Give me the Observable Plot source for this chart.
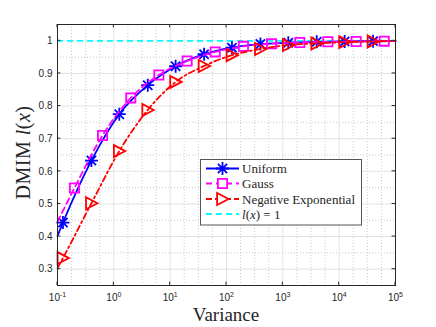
<!DOCTYPE html>
<html><head><meta charset="utf-8">
<script src="https://cdn.jsdelivr.net/npm/d3@7"></script>
<script src="https://cdn.jsdelivr.net/npm/@observablehq/plot@0.6"></script>
<style>
html,body{margin:0;padding:0;background:#fff;}
#chart{position:relative;width:436px;height:327px;}
</style></head><body><div id="chart"></div>
<script>
// ---- data ----
const xMin = 0.1, xMax = 1e5;
const yMin = 0.25, yMax = 1.05;
const xTicks = [0.1, 1, 10, 100, 1000, 10000, 100000];
const yTicks = [0.3, 0.4, 0.5, 0.6, 0.7, 0.8, 0.9, 1];

const uniformX = [0.125, 0.4, 1.25, 4, 12.5, 40, 125, 400, 1250, 4000, 12500, 40000];
const uniformY = [0.443, 0.633, 0.775, 0.864, 0.922, 0.959, 0.979, 0.990, 0.994, 0.997, 0.998, 0.999];
const uniformStart = 0.402, uniformEnd = 0.9995;

const gaussX = [0.2, 0.63, 2, 6.3, 20, 63, 200, 630, 2000, 6300, 20000, 63000];
const gaussY = [0.549, 0.710, 0.825, 0.895, 0.938, 0.966, 0.983, 0.991, 0.995, 0.997, 0.998, 0.999];
const gaussStart = 0.445, gaussEnd = 0.9995;

const negExpX = [0.125, 0.4, 1.25, 4, 12.5, 40, 125, 400, 1250, 4000, 12500, 40000];
const negExpY = [0.334, 0.502, 0.662, 0.788, 0.874, 0.923, 0.956, 0.975, 0.987, 0.992, 0.996, 0.998];
const negExpStart = 0.303, negExpEnd = 0.999;

const refLevel = 1;
const seriesNames = ["Uniform", "Gauss", "Negative Exponential"];

// ---- build tables ----
const pts = (xs, ys) => xs.map((x, i) => ({x, y: ys[i]}));
const lineOf = (xs, ys, s, e) => [{x: xMin, y: s}, ...pts(xs, ys), {x: xMax, y: e}];
const uniformPts = pts(uniformX, uniformY), gaussPts = pts(gaussX, gaussY), negExpPts = pts(negExpX, negExpY);
const uniformLine = lineOf(uniformX, uniformY, uniformStart, uniformEnd);
const gaussLine = lineOf(gaussX, gaussY, gaussStart, gaussEnd);
const negExpLine = lineOf(negExpX, negExpY, negExpStart, negExpEnd);

// minor grid positions
const xMinor = [];
for (let k = -1; k < 5; k++) for (const f of [0.25, 0.5, 0.75]) xMinor.push(Math.pow(10, k + f));
const yMinor = yTicks.map(v => +(v + 0.05).toFixed(2)).filter(v => v < yMax);

// ---- symbols ----
const star8 = {draw(ctx, size) { const r = Math.sqrt(size / Math.PI), d = r * Math.SQRT1_2;
  ctx.moveTo(-r, 0); ctx.lineTo(r, 0); ctx.moveTo(0, -r); ctx.lineTo(0, r);
  ctx.moveTo(-d, -d); ctx.lineTo(d, d); ctx.moveTo(-d, d); ctx.lineTo(d, -d); }};
const squareSym = {draw(ctx, size) { const r = Math.sqrt(size / Math.PI);
  ctx.moveTo(-r, -r); ctx.lineTo(r, -r); ctx.lineTo(r, r); ctx.lineTo(-r, r); ctx.closePath(); }};
const triRight = {draw(ctx, size) { const r = Math.sqrt(size / Math.PI);
  ctx.moveTo(r, 0); ctx.lineTo(-r * 0.9, -r); ctx.lineTo(-r * 0.9, r); ctx.closePath(); }};

const BLUE = "#0000ff", MAG = "#ff00ff", RED = "#ff0000", CYAN = "#00ffff";
const LW = 1.8;
const styles = [
  {stroke: BLUE, dash: null, sym: star8, r: 6.5},
  {stroke: MAG, dash: "6,4", sym: squareSym, r: 4.6},
  {stroke: RED, dash: "6,3,2,3", sym: triRight, r: 6}
];

const W = 436, H = 327, ml = 57, mr = 41, mt = 24, mb = 42;
const plot = Plot.plot({
  width: W, height: H, marginLeft: ml, marginRight: mr, marginTop: mt, marginBottom: mb,
  style: {fontFamily: "'Liberation Sans', Arial, sans-serif", fontSize: "10px", color: "#262626", background: "white"},
  x: {type: "log", domain: [xMin, xMax], ticks: xTicks, tickFormat: d => "10^" + Math.round(Math.log10(d)), tickSize: 0, tickPadding: 8, label: null},
  y: {domain: [yMin, yMax], ticks: yTicks, tickFormat: d => d === 1 ? "1" : d.toFixed(1), tickSize: 0, tickPadding: 5, label: null},
  marks: [
    Plot.ruleX(xMinor, {stroke: "#c4c4c4", strokeWidth: 0.9, strokeDasharray: "1,2"}),
    Plot.ruleY(yMinor, {stroke: "#c4c4c4", strokeWidth: 0.9, strokeDasharray: "1,2"}),
    Plot.ruleX(xTicks.slice(1, -1), {stroke: "#e2e2e2", strokeWidth: 1}),
    Plot.ruleY(yTicks, {stroke: "#e2e2e2", strokeWidth: 1}),
    Plot.ruleY([refLevel], {stroke: CYAN, strokeWidth: LW, strokeDasharray: "6,4"}),
    Plot.line(uniformLine, {x: "x", y: "y", stroke: BLUE, strokeWidth: LW, curve: "monotone-x"}),
    Plot.dot(uniformPts, {x: "x", y: "y", symbol: star8, r: 6.5, stroke: BLUE, fill: "none", strokeWidth: LW}),
    Plot.line(gaussLine, {x: "x", y: "y", stroke: MAG, strokeWidth: LW, strokeDasharray: "6,4", curve: "monotone-x"}),
    Plot.dot(gaussPts, {x: "x", y: "y", symbol: squareSym, r: 4.6, stroke: MAG, fill: "none", strokeWidth: LW}),
    Plot.line(negExpLine, {x: "x", y: "y", stroke: RED, strokeWidth: LW, strokeDasharray: "6,3,2,3", curve: "monotone-x"}),
    Plot.dot(negExpPts, {x: "x", y: "y", symbol: triRight, r: 6, stroke: RED, fill: "none", strokeWidth: LW}),
    Plot.frame({stroke: "#262626", strokeWidth: 1})
  ]
});
document.getElementById("chart").appendChild(plot);

const svg = d3.select(plot);
const sx = plot.scale("x"), sy = plot.scale("y");
const L = ml, R = W - mr, T = mt, B = H - mb, tl = 3.4;

// superscript tick labels
svg.selectAll("text").each(function() {
  const m = /^10\^(-?\d+)$/.exec(this.textContent.trim());
  if (!m) return;
  const t = d3.select(this);
  t.text(null);
  t.append("tspan").text("10");
  t.append("tspan").attr("dy", "-0.45em").style("font-size", "7px").text(m[1]);
});

// inward tick marks on all four sides
const tg = svg.append("g").attr("stroke", "#262626").attr("stroke-width", 1);
xTicks.forEach(v => { const x = sx.apply(v);
  tg.append("line").attr("x1", x).attr("x2", x).attr("y1", B).attr("y2", B - tl);
  tg.append("line").attr("x1", x).attr("x2", x).attr("y1", T).attr("y2", T + tl); });
yTicks.forEach(v => { const y = sy.apply(v);
  tg.append("line").attr("x1", L).attr("x2", L + tl).attr("y1", y).attr("y2", y);
  tg.append("line").attr("x1", R).attr("x2", R - tl).attr("y1", y).attr("y2", y); });

// axis titles
const serif = "'Liberation Serif', 'Times New Roman', serif";
svg.append("text").attr("x", (L + R) / 2).attr("y", 321).attr("text-anchor", "middle")
  .style("font-family", serif).style("font-size", "19px").attr("fill", "#262626").text("Variance");
const yl = svg.append("text").attr("transform", `translate(30,${(T + B) / 2 - 2}) rotate(-90)`)
  .attr("text-anchor", "middle").style("font-family", serif).style("font-size", "20px")
  .attr("letter-spacing", 0.5).attr("fill", "#262626");
yl.append("tspan").text("DMIM ");
yl.append("tspan").attr("font-style", "italic").text("l");
yl.append("tspan").text("(");
yl.append("tspan").attr("font-style", "italic").text("x");
yl.append("tspan").text(")");

// legend
const lg = svg.append("g");
lg.append("rect").attr("x", 200.5).attr("y", 159.5).attr("width", 161).attr("height", 65.5)
  .attr("fill", "white").attr("stroke", "#555").attr("stroke-width", 1);
const rowY = [168.5, 183.5, 199, 214];
const entries = [...styles.map((s, i) => ({...s, name: seriesNames[i]})), {stroke: CYAN, dash: "6,4", sym: null}];
entries.forEach((e, i) => {
  const y = rowY[i];
  lg.append("line").attr("x1", 206).attr("x2", 239).attr("y1", y).attr("y2", y)
    .attr("stroke", e.stroke).attr("stroke-width", LW).attr("stroke-dasharray", e.dash);
  if (e.sym) lg.append("path").attr("transform", `translate(222.5,${y})`)
    .attr("d", d3.symbol(e.sym, e.r * e.r * Math.PI)()).attr("fill", "white")
    .attr("stroke", e.stroke).attr("stroke-width", LW);
  const t = lg.append("text").attr("x", 242).attr("y", y + 4.5).attr("text-anchor", "start")
    .style("font-family", serif).style("font-size", "13px").attr("fill", "#262626");
  if (e.name) t.text(e.name);
  else {
    t.append("tspan").attr("font-style", "italic").text("l");
    t.append("tspan").text("(");
    t.append("tspan").attr("font-style", "italic").text("x");
    t.append("tspan").text(") = 1");
  }
});
</script></body></html>
